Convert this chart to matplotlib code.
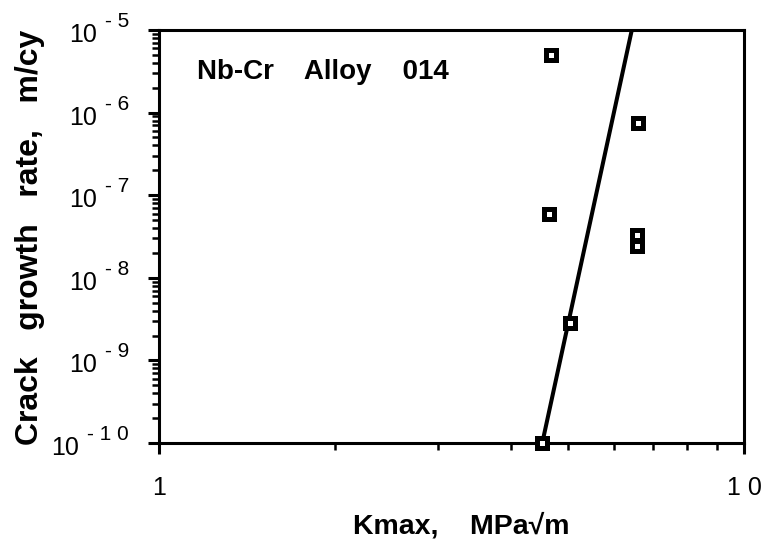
import matplotlib
matplotlib.use("Agg")
import matplotlib.pyplot as plt
from matplotlib.ticker import FixedLocator, LogLocator, NullFormatter, FuncFormatter

plt.rcParams['font.family'] = ['Liberation Sans', 'DejaVu Sans']

# measured points
kmax = [4.68, 6.59, 4.64, 6.56, 6.56, 5.04, 4.52]
rate = [5.0e-6, 7.5e-7, 5.9e-8, 3.3e-8, 2.45e-8, 2.85e-9, 1.0e-10]

# fitted line end points
fit_k = [4.52, 6.43]
fit_rate = [1.0e-10, 1.0e-5]

# y decades
exps = [-10, -9, -8, -7, -6, -5]

PX = 0.72  # points per pixel at dpi 100

fig = plt.figure(figsize=(7.66, 5.48), dpi=100)
ax = fig.add_axes([159/766, 1 - 443/548, 585/766, 413/548])

ax.plot(fit_k, fit_rate, color='black', lw=2.9, solid_capstyle='butt', zorder=2)
ax.plot(kmax, rate, ls='none', marker='s', ms=7.2, mfc='white', mec='black',
        mew=3.6, clip_on=False, zorder=3)

ax.set_xscale('log')
ax.set_yscale('log')
ax.set_xlim(1, 10)
ax.set_ylim(1e-10, 1e-5)

ax.xaxis.set_major_locator(FixedLocator([1, 10]))
ax.xaxis.set_minor_locator(LogLocator(base=10, subs=range(2, 10)))
ax.xaxis.set_minor_formatter(NullFormatter())
ax.xaxis.set_major_formatter(FuncFormatter(lambda v, p: '1' if v < 5 else '1 0'))

ax.yaxis.set_major_locator(FixedLocator([10.0 ** e for e in exps]))
ax.yaxis.set_minor_locator(LogLocator(base=10, subs=range(2, 10)))
ax.yaxis.set_minor_formatter(NullFormatter())
ax.yaxis.set_major_formatter(NullFormatter())

for s in ax.spines.values():
    s.set_linewidth(2.2)

ax.tick_params(which='major', direction='out', length=8, width=2.2,
               labelsize=18, top=False, right=False)
ax.tick_params(which='minor', direction='out', length=5, width=1.8,
               top=False, right=False)
ax.tick_params(axis='x', which='major', pad=16)

# y tick labels: "10" with a spaced superscript exponent
ytr = ax.get_yaxis_transform()
for e in exps:
    sup = '- ' + ' '.join(str(-e))
    t = ax.annotate(sup, xy=(0, 10.0 ** e), xycoords=ytr,
                    xytext=(-30 * PX, 3 * PX), textcoords='offset points',
                    ha='right', va='baseline', fontsize=15, annotation_clip=False)
    ax.annotate('10', xy=(0, 10.0 ** e), xycoords=(t, ytr),
                xytext=(-8 * PX, -12 * PX), textcoords='offset points',
                ha='right', va='baseline', fontsize=18, annotation_clip=False)

ax.text(38/585, (443-79)/413, 'Nb-Cr    Alloy    014', transform=ax.transAxes,
        fontsize=20, fontweight='bold', va='baseline', ha='left')

fig.text(353/766, 1 - 533/548, 'Kmax,    MPa\u221am', fontsize=20.5,
         fontweight='bold', ha='left', va='baseline')
fig.text(30/766, 1 - 237/548, 'Crack   growth   rate,   m/cy', fontsize=23,
         fontweight='bold', rotation=90, ha='center', va='center')

fig.savefig('out.png', dpi=100)
